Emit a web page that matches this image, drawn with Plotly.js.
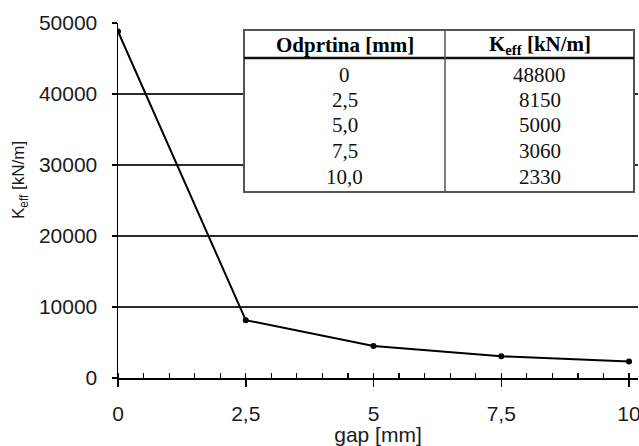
<!DOCTYPE html>
<html>
<head>
<meta charset="utf-8">
<script src="https://cdn.plot.ly/plotly-3.0.1.min.js"></script>
<style>html,body{margin:0;padding:0;background:#fff;}#chart{width:639px;height:446px;}</style>
</head>
<body>
<div id="chart"></div>
<script>
// ---- data ----
const gap = [0, 2.5, 5, 7.5, 10];                 // gap [mm]
const keff = [48800, 8150, 4500, 3060, 2330];    // plotted K_eff [kN/m]
const xTickVals = [0, 2.5, 5, 7.5, 10];
const xTickText = ['0', '2,5', '5', '7,5', '10'];
const yTickVals = [0, 10000, 20000, 30000, 40000, 50000];
const yTickText = ['0', '10000', '20000', '30000', '40000', '50000'];
const tableHeader = ['Odprtina [mm]', 'K<sub>eff</sub> [kN/m]'];
const tableGap = ['0', '2,5', '5,0', '7,5', '10,0'];
const tableKeff = ['48800', '8150', '5000', '3060', '2330'];

// ---- layout helpers (pixel -> paper) ----
const W = 639, H = 446;
const mL = 118, mR = 1, mT = 23, mB = 68;
const pw = W - mL - mR, ph = H - mT - mB;
const px = v => (v - mL) / pw;
const py = v => (H - mB - v) / ph;

const sans = 'Liberation Sans';
const serif = 'Liberation Serif';
const tickFont = {family: sans, size: 21, color: '#1a1a22'};

const trace = {
  x: gap, y: keff, type: 'scatter', mode: 'lines+markers',
  line: {color: '#000', width: 2},
  marker: {color: '#000', size: 6, symbol: 'circle'},
  showlegend: false, hoverinfo: 'x+y'
};

// table geometry
const tL = 244, tR = 634, tT = 30, tB = 192, tH = 58, tC = 445;
const rowY = [75, 100, 125.5, 151, 177];

const shapes = [
  {type: 'rect', xref: 'paper', yref: 'paper', x0: px(tL), x1: px(tR), y0: py(tB), y1: py(tT),
   line: {color: '#555', width: 2}, fillcolor: '#fff', layer: 'above'},
  {type: 'line', xref: 'paper', yref: 'paper', x0: px(tL), x1: px(tR), y0: py(tH), y1: py(tH),
   line: {color: '#111', width: 2.5}, layer: 'above'},
  {type: 'line', xref: 'paper', yref: 'paper', x0: px(tC), x1: px(tC), y0: py(tB), y1: py(tT),
   line: {color: '#555', width: 1.5}, layer: 'above'}
];

const annotations = [];
const c1 = px((tL + tC) / 2), c2 = px((tC + tR) / 2);
annotations.push({xref: 'paper', yref: 'paper', x: c1, y: py(44.5), text: '<b>' + tableHeader[0] + '</b>',
  showarrow: false, xanchor: 'center', yanchor: 'middle', font: {family: serif, size: 21, color: '#000'}});
annotations.push({xref: 'paper', yref: 'paper', x: c2, y: py(44.5), text: '<b>' + tableHeader[1] + '</b>',
  showarrow: false, xanchor: 'center', yanchor: 'middle', font: {family: serif, size: 21, color: '#000'}});
tableGap.forEach((g, i) => {
  annotations.push({xref: 'paper', yref: 'paper', x: c1, y: py(rowY[i]), text: g, showarrow: false,
    xanchor: 'center', yanchor: 'middle', font: {family: serif, size: 21, color: '#111'}});
  annotations.push({xref: 'paper', yref: 'paper', x: c2, y: py(rowY[i]), text: tableKeff[i], showarrow: false,
    xanchor: 'center', yanchor: 'middle', font: {family: serif, size: 21, color: '#111'}});
});
// y-axis title
annotations.push({xref: 'paper', yref: 'paper', x: px(20), y: py(180), text: 'K<sub>eff</sub> [kN/m]',
  textangle: -90, showarrow: false, xanchor: 'center', yanchor: 'middle',
  font: {family: sans, size: 17, color: '#1a1a22'}});

const xMax = 10 * pw / (629 - mL);

const layout = {
  width: W, height: H,
  margin: {l: mL, r: mR, t: mT, b: mB, pad: 0},
  paper_bgcolor: '#fff', plot_bgcolor: '#fff',
  xaxis: {
    range: [0, xMax], tickmode: 'array', tickvals: xTickVals, ticktext: xTickText,
    showgrid: false, zeroline: false, showline: true, linecolor: '#000', linewidth: 1.5,
    ticks: 'outside', ticklen: 7, tickwidth: 1.5, tickcolor: '#000',
    ticklabelstandoff: 9, ticklabeloverflow: 'allow',
    minor: {tickmode: 'linear', tick0: 0, dtick: 0.5, ticks: 'inside', ticklen: 5, tickwidth: 1.2, tickcolor: '#000', showgrid: false},
    tickfont: tickFont,
    title: {text: 'gap [mm]', font: {family: sans, size: 21, color: '#1a1a22'}, standoff: 3}
  },
  xaxis2: {
    overlaying: 'x', matches: 'x', anchor: 'y', side: 'bottom',
    tickmode: 'array', tickvals: xTickVals, showticklabels: false,
    ticks: 'inside', ticklen: 4, tickwidth: 1.5, tickcolor: '#000',
    showgrid: false, zeroline: false, showline: false
  },
  yaxis: {
    range: [0, 50000], tickmode: 'array', tickvals: yTickVals, ticktext: yTickText,
    showgrid: true, gridcolor: '#2a2a2a', gridwidth: 1.3, zeroline: false,
    showline: true, linecolor: '#000', linewidth: 1.5,
    ticks: 'outside', ticklen: 5, tickwidth: 1.3, tickcolor: '#000',
    ticklabelstandoff: 10,
    tickfont: tickFont
  },
  shapes: shapes,
  annotations: annotations,
  showlegend: false
};

Plotly.newPlot('chart', [trace], layout, {displayModeBar: false, staticPlot: true});
</script>
</body>
</html>
